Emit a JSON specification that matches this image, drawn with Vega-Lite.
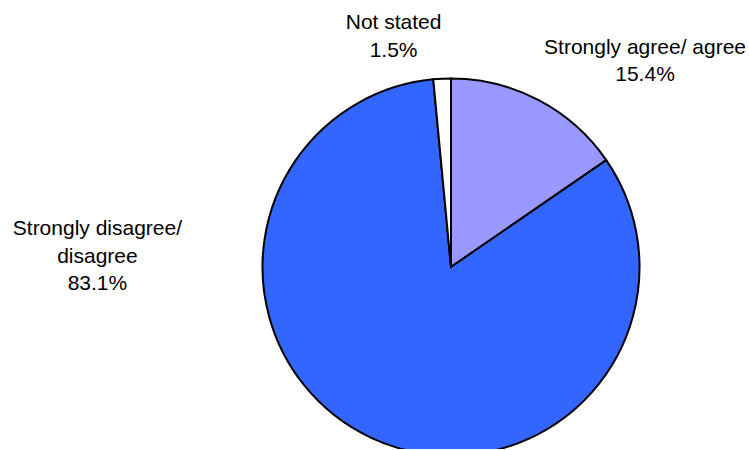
{
  "$schema": "https://vega.github.io/schema/vega-lite/v6.json",
  "autosize": "none",
  "width": 596,
  "height": 364,
  "padding": {"left": 153, "top": 85, "right": 0, "bottom": 0},
  "background": "white",
  "config": {"view": {"stroke": null}, "text": {"font": "Liberation Sans"}},
  "data": {
    "values": [
      {"category": "Strongly agree/ agree", "value": 15.4, "order": 1, "label": "Strongly agree/ agree\n15.4%"},
      {"category": "Strongly disagree/ disagree", "value": 83.1, "order": 2, "label": "Strongly disagree/\ndisagree\n83.1%"},
      {"category": "Not stated", "value": 1.5, "order": 3, "label": "Not stated\n1.5%"}
    ]
  },
  "encoding": {
    "theta": {"field": "value", "type": "quantitative", "stack": true},
    "order": {"field": "order", "type": "quantitative"}
  },
  "layer": [
    {
      "mark": {"type": "arc", "outerRadius": 188.5, "stroke": "black", "strokeWidth": 2},
      "encoding": {
        "color": {
          "field": "category",
          "type": "nominal",
          "scale": {
            "domain": ["Strongly agree/ agree", "Strongly disagree/ disagree", "Not stated"],
            "range": ["#9999FF", "#3366FF", "#FFFFFF"]
          },
          "legend": null
        }
      }
    },
    {
      "mark": {"type": "text", "radius": 200, "dx": 101, "dy": -42, "fontSize": 21, "lineBreak": "\n", "lineHeight": 27.5, "align": "center", "baseline": "middle", "color": "black"},
      "encoding": {
        "text": {"condition": {"test": "datum.category === 'Strongly agree/ agree'", "field": "label"}, "value": ""}
      }
    },
    {
      "mark": {"type": "text", "radius": 200, "dx": -269, "dy": -219, "fontSize": 21, "lineBreak": "\n", "lineHeight": 27.5, "align": "center", "baseline": "middle", "color": "black"},
      "encoding": {
        "text": {"condition": {"test": "datum.category === 'Strongly disagree/ disagree'", "field": "label"}, "value": ""}
      }
    },
    {
      "mark": {"type": "text", "radius": 200, "dx": -48, "dy": -44, "fontSize": 21, "lineBreak": "\n", "lineHeight": 27.5, "align": "center", "baseline": "middle", "color": "black"},
      "encoding": {
        "text": {"condition": {"test": "datum.category === 'Not stated'", "field": "label"}, "value": ""}
      }
    }
  ]
}
